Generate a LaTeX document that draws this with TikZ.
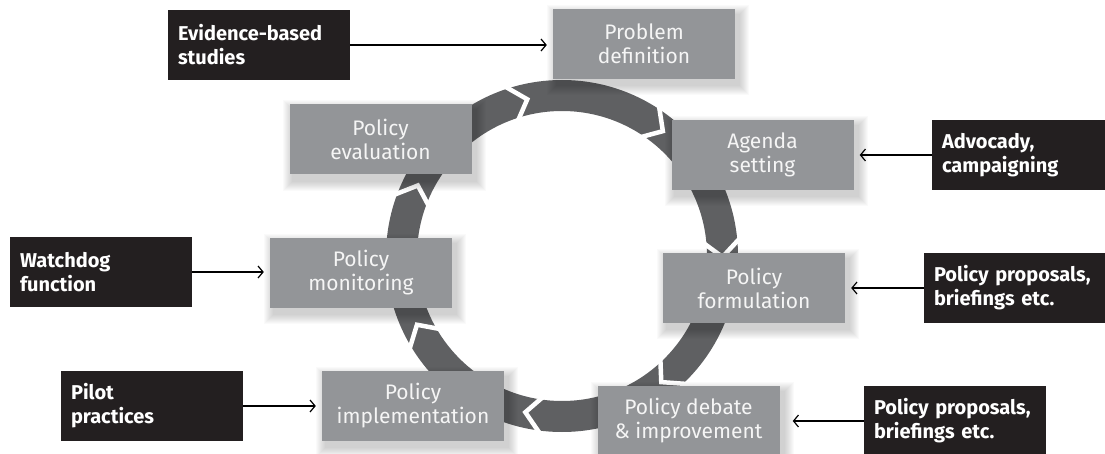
\documentclass[tikz,border=0pt]{standalone}
\usepackage{fontspec}
\setmainfont{Fira Sans}
\usetikzlibrary{arrows.meta}
\definecolor{boxgray}{HTML}{939598}
\definecolor{boxdark}{HTML}{231F20}
\definecolor{ringgray}{HTML}{5F6062}
\definecolor{txtlight}{HTML}{F5F5F5}
\pgfdeclarelayer{ringlayer}
\pgfdeclarelayer{shadowlayer}
\pgfsetlayers{ringlayer,shadowlayer,main}
\tikzset{
  stage/.style={fill=boxgray, text=txtlight, minimum width=182pt, minimum height=70pt,
    inner sep=0pt, align=center, font=\fontsize{21}{24}\selectfont},
  actor/.style={fill=boxdark, text=white, minimum width=182pt, minimum height=70pt,
    inner sep=0pt, text width=162pt, align=left,
    font=\bfseries\fontsize{20}{24}\selectfont},
  feed/.style={draw=black, line width=1.2pt, -{Straight Barb[length=5pt,width=12pt]}, shorten >=6pt},
  chev/.style={white, line width=4.5pt, line join=miter},
}
\begin{document}
\begin{tikzpicture}[x=1pt,y=-1pt]
\useasboundingbox (0,0) rectangle (1105,454);
\clip (0,0) rectangle (1105,454);

% stages of the cycle
\node[stage] (pd) at (644,44)    {Problem\\definition};
\node[stage] (ev) at (380.5,139.5) {Policy\\evaluation};
\node[stage] (ag) at (762.5,155) {Agenda\\setting};
\node[stage] (mo) at (361,273)   {Policy\\monitoring};
\node[stage] (fo) at (754,288)   {Policy\\formulation};
\node[stage] (im) at (413,406)   {Policy\\implementation};
\node[stage] (de) at (688.5,421) {Policy debate\\\& improvement};

% inputs
\node[actor] (evs) at (259,45)   {Evidence-based\\studies};
\node[actor] (adv) at (1023,155) {Advocady,\\campaigning};
\node[actor] (wd)  at (101,272)  {Watchdog\\function};
\node[actor] (pp1) at (1015,288) {Policy proposals,\\briefings etc.};
\node[actor] (pil) at (152,406)  {Pilot\\practices};
\node[actor] (pp2) at (955,421)  {Policy proposals,\\briefings etc.};

% shadows
\begin{pgfonlayer}{shadowlayer}
\foreach \n in {pd,ev,ag,mo,fo,im,de}{
  \foreach \e in {1,...,10}{
    \fill[black,opacity=0.02] ([shift={(4-\e,6-\e)}]\n.north west) rectangle ([shift={(4+\e,6+\e)}]\n.south east);
  }
}
\end{pgfonlayer}

% ring
\begin{pgfonlayer}{ringlayer}
\begin{scope}[shift={(562,256)}, yscale=-1]
  \fill[ringgray, even odd rule] (0,0) circle[radius=176] (0,0) circle[radius=145];
  \foreach \a in {110,58.57,7.14,-44.29,-95.71,-147.14,161.43}
    \draw[chev] (\a:184) -- (\a-7.5:160.5) -- (\a:137);
\end{scope}
\end{pgfonlayer}

% connectors
\draw[feed] (evs.east) -- (evs.east -| pd.west);
\draw[feed] (adv.west) -- (adv.west -| ag.east);
\draw[feed] (wd.east) -- (wd.east -| mo.west);
\draw[feed] (pp1.west) -- (pp1.west -| fo.east);
\draw[feed] (pil.east) -- (pil.east -| im.west);
\draw[feed, shorten >=13pt] (pp2.west) -- (pp2.west -| de.east);
\end{tikzpicture}
\end{document}
